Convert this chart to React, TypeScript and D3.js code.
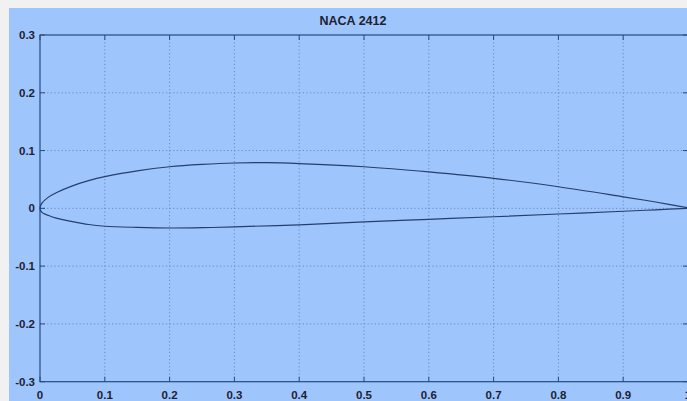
import React from "react"
import * as d3 from "d3"

// Data (chord x, thickness y)
const xUpper = [0, 0.003, 0.0125, 0.025, 0.05, 0.075, 0.1, 0.15, 0.2, 0.25, 0.3, 0.35, 0.4, 0.5, 0.6, 0.7, 0.8, 0.9, 0.95, 1.0]
const yUpper = [0, 0.009, 0.019, 0.027, 0.039, 0.048, 0.055, 0.065, 0.072, 0.076, 0.0785, 0.079, 0.0775, 0.072, 0.063, 0.052, 0.0374, 0.02, 0.011, 0.001]
const xLower = [0, 0.003, 0.0125, 0.025, 0.05, 0.075, 0.1, 0.15, 0.2, 0.25, 0.3, 0.4, 0.5, 0.6, 0.7, 0.8, 0.9, 0.95, 1.0]
const yLower = [0, -0.007, -0.012, -0.017, -0.023, -0.028, -0.031, -0.033, -0.034, -0.0335, -0.032, -0.0285, -0.0235, -0.019, -0.0145, -0.0098, -0.005, -0.0025, 0]

const xTicks = [0, 0.1, 0.2, 0.3, 0.4, 0.5, 0.6, 0.7, 0.8, 0.9, 1]
const xTickLabels = ["0", "0.1", "0.2", "0.3", "0.4", "0.5", "0.6", "0.7", "0.8", "0.9", "1"]
const yTicks = [0.3, 0.2, 0.1, 0, -0.1, -0.2, -0.3]
const yTickLabels = ["0.3", "0.2", "0.1", "0", "-0.1", "-0.2", "-0.3"]
const title = "NACA 2412"

const App = () => {
  // Dimensions
  const totalW = 687
  const totalH = 401
  const left = 40
  const right = 688
  const top = 35
  const bottom = 381.7

  // Scales
  const xScale = d3.scaleLinear().domain([0, 1]).range([left, right])
  const yScale = d3.scaleLinear().domain([-0.3, 0.3]).range([bottom, top])

  // Outline: upper surface from trailing edge to nose, then lower surface back
  const pts: [number, number][] = []
  for (let i = xUpper.length - 1; i >= 0; i--) pts.push([xUpper[i], yUpper[i]])
  for (let i = 1; i < xLower.length; i++) pts.push([xLower[i], yLower[i]])
  const line = d3
    .line<[number, number]>()
    .x(d => xScale(d[0]))
    .y(d => yScale(d[1]))
    .curve(d3.curveCatmullRom.alpha(0.5))

  const gridColor = "#6a8cc0"
  const axisColor = "#284a80"
  const textColor = "#1c2233"
  const font = "'Liberation Sans', Arial, sans-serif"

  return (
    <svg
      width={totalW}
      height={totalH}
      style={{ position: "absolute", left: 0, top: 0, display: "block" }}
    >
      <rect x={0} y={0} width={totalW} height={totalH} fill="#f1f1f1" />
      <rect x={9} y={8} width={totalW - 9} height={totalH - 8} fill="#9fc5fd" />

      {/* grid */}
      {xTicks.slice(1, -1).map(t => (
        <line
          key={`gx-${t}`}
          x1={xScale(t)}
          x2={xScale(t)}
          y1={top}
          y2={bottom}
          stroke={gridColor}
          strokeWidth={1}
          strokeDasharray="1.2,2.4"
        />
      ))}
      {yTicks.slice(1, -1).map(t => (
        <line
          key={`gy-${t}`}
          x1={left}
          x2={right}
          y1={yScale(t)}
          y2={yScale(t)}
          stroke={gridColor}
          strokeWidth={1}
          strokeDasharray="1.2,2.4"
        />
      ))}

      {/* ticks */}
      {xTicks.map(t => (
        <g key={`tx-${t}`} stroke={axisColor} strokeWidth={1}>
          <line x1={xScale(t)} x2={xScale(t)} y1={top} y2={top + 5} />
          <line x1={xScale(t)} x2={xScale(t)} y1={bottom} y2={bottom - 5} />
        </g>
      ))}
      {yTicks.map(t => (
        <g key={`ty-${t}`} stroke={axisColor} strokeWidth={1}>
          <line x1={left} x2={left + 5} y1={yScale(t)} y2={yScale(t)} />
          <line x1={right} x2={right - 5} y1={yScale(t)} y2={yScale(t)} />
        </g>
      ))}

      {/* box */}
      <rect
        x={left}
        y={top}
        width={right - left}
        height={bottom - top}
        fill="none"
        stroke={axisColor}
        strokeWidth={1.2}
      />

      {/* airfoil */}
      <path d={line(pts) || ""} fill="none" stroke="#253f6c" strokeWidth={1.2} />

      {/* labels */}
      {xTicks.map((t, i) => (
        <text
          key={`lx-${t}`}
          x={xScale(t)}
          y={399}
          textAnchor="middle"
          fontFamily={font}
          fontWeight="bold"
          fontSize={11.5}
          fill={textColor}
        >
          {xTickLabels[i]}
        </text>
      ))}
      {yTicks.map((t, i) => (
        <text
          key={`ly-${t}`}
          x={35}
          y={yScale(t) + 4}
          textAnchor="end"
          fontFamily={font}
          fontWeight="bold"
          fontSize={11.5}
          fill={textColor}
        >
          {yTickLabels[i]}
        </text>
      ))}
      <text
        x={353}
        y={25}
        textAnchor="middle"
        fontFamily={font}
        fontWeight="bold"
        fontSize={12.5}
        fill={textColor}
      >
        {title}
      </text>
    </svg>
  )
}

export default App
